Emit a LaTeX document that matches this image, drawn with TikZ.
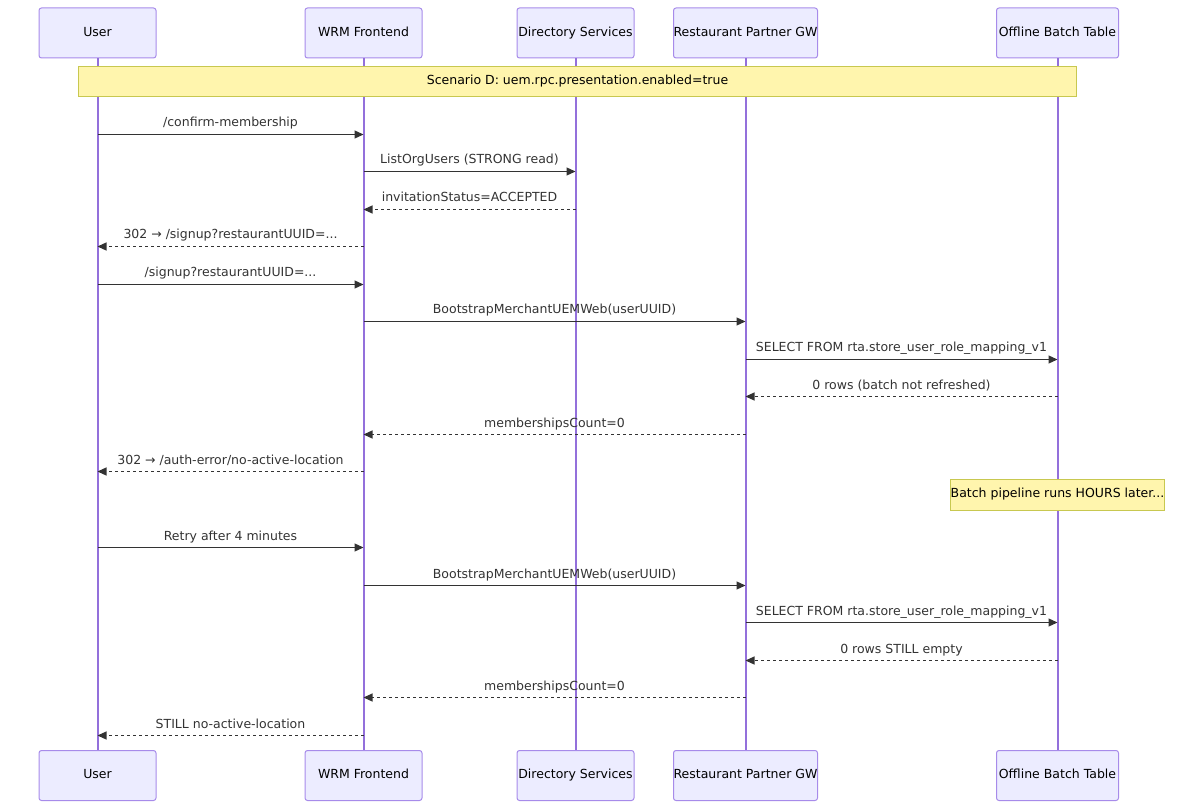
\documentclass[tikz,border=0pt]{standalone}
\usepackage{fontspec}
\setmainfont{DejaVu Sans}
\usetikzlibrary{arrows.meta,calc}
\definecolor{actfill}{HTML}{ECECFF}
\definecolor{actline}{HTML}{A78BEA}
\definecolor{lifecol}{HTML}{9370DB}
\definecolor{notefill}{HTML}{FFF5AD}
\definecolor{noteline}{HTML}{C8C850}
\definecolor{msgcol}{HTML}{333333}
\tikzset{
  actor/.style={draw=actline, fill=actfill, rounded corners=2.5pt, line width=1pt,
    minimum height=50pt, inner sep=0pt, text height=9pt, text depth=2.5pt,
    font=\fontsize{12.5}{14}\selectfont, text=black},
  lifeline/.style={color=lifecol, line width=2pt},
  notebox/.style={draw=noteline, fill=notefill, line width=1pt, inner sep=0pt,
    text height=9pt, text depth=2.5pt,
    font=\fontsize{12.5}{14}\selectfont, text=black},
  msg/.style={draw=msgcol, line width=1.2pt, -{Triangle[length=9pt,width=8pt]}},
  rep/.style={msg, dash pattern=on 3pt off 3pt},
  lbl/.style={font=\fontsize{12.5}{14}\selectfont, text=msgcol, inner sep=0pt, anchor=base},
}
\newcommand\mymsg[6]{%
  \coordinate (m#5a) at (#1 |- 0,#3);
  \coordinate (m#5b) at (#2 |- 0,#3);
  \draw[#4] (m#5a) -- (m#5b);
  \node[lbl] (l#5) at ($(m#5a)!0.5!(m#5b)+(0,-7.5)$) {#6};
}
\begin{document}
\begin{tikzpicture}[x=1pt,y=-1pt]
\useasboundingbox (0,0) rectangle (1200,810);
\node[actor, minimum width=117pt] (uT) at (97.5,33) {User};
\node[actor, minimum width=117pt] (wT) at (363.5,33) {WRM Frontend};
\node[actor, minimum width=117pt] (dT) at (575.5,33) {Directory Services};
\node[actor, minimum width=144pt] (rT) at (745.5,33) {Restaurant Partner GW};
\node[actor, minimum width=122pt] (oT) at (1057.5,33) {Offline Batch Table};
\node[actor, minimum width=117pt] (uB) at (97.5,775.5) {User};
\node[actor, minimum width=117pt] (wB) at (363.5,775.5) {WRM Frontend};
\node[actor, minimum width=117pt] (dB) at (575.5,775.5) {Directory Services};
\node[actor, minimum width=144pt] (rB) at (745.5,775.5) {Restaurant Partner GW};
\node[actor, minimum width=122pt] (oB) at (1057.5,775.5) {Offline Batch Table};
% lifelines
\draw[lifeline] (uT.south) -- (uB.north);
\draw[lifeline] (wT.south) -- (wB.north);
\draw[lifeline] (dT.south) -- (dB.north);
\draw[lifeline] (rT.south) -- (rB.north);
\draw[lifeline] (oT.south) -- (oB.north);
% notes
\node[notebox, minimum width=998pt, minimum height=30pt] (n1) at (577.5,81.5) {Scenario D: uem.rpc.presentation.enabled=true};
\node[notebox, minimum width=206pt, minimum height=31pt] (n2) at (1057.5,494.5) {Batch pipeline runs HOURS later...};
% messages
\mymsg{uT}{wT}{134.5}{msg}{1}{/confirm-membership}
\mymsg{wT}{dT}{171.5}{msg}{2}{ListOrgUsers (STRONG read)}
\mymsg{dT}{wT}{209.5}{rep}{3}{invitationStatus=ACCEPTED}
\mymsg{wT}{uT}{246.5}{rep}{4}{302 → /signup?restaurantUUID=...}
\mymsg{uT}{wT}{284.5}{msg}{5}{/signup?restaurantUUID=...}
\mymsg{wT}{rT}{321.5}{msg}{6}{BootstrapMerchantUEMWeb(userUUID)}
\mymsg{rT}{oT}{359.5}{msg}{7}{SELECT FROM rta.store\_user\_role\_mapping\_v1}
\mymsg{oT}{rT}{396.5}{rep}{8}{0 rows (batch not refreshed)}
\mymsg{rT}{wT}{434.5}{rep}{9}{membershipsCount=0}
\mymsg{wT}{uT}{471.5}{rep}{10}{302 → /auth-error/no-active-location}
\mymsg{uT}{wT}{547.5}{msg}{11}{Retry after 4 minutes}
\mymsg{wT}{rT}{585.5}{msg}{12}{BootstrapMerchantUEMWeb(userUUID)}
\mymsg{rT}{oT}{622.5}{msg}{13}{SELECT FROM rta.store\_user\_role\_mapping\_v1}
\mymsg{oT}{rT}{660.5}{rep}{14}{0 rows STILL empty}
\mymsg{rT}{wT}{697.5}{rep}{15}{membershipsCount=0}
\mymsg{wT}{uT}{735.5}{rep}{16}{STILL no-active-location}
\end{tikzpicture}
\end{document}
